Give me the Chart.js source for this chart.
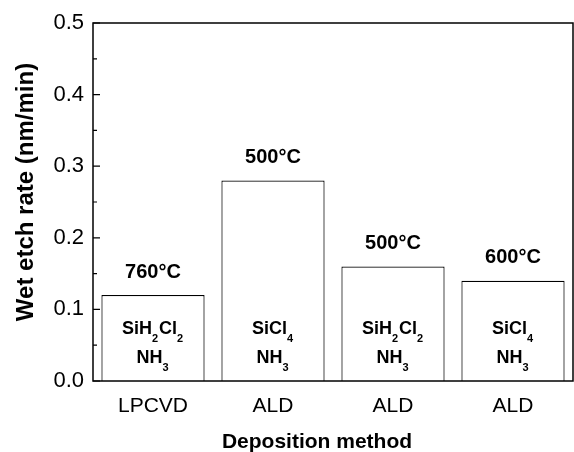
<!DOCTYPE html>
<html>
<head>
<meta charset="utf-8">
<script src="https://cdn.jsdelivr.net/npm/chart.js@4"></script>
<style>
  html, body { margin: 0; padding: 0; background: #fff; }
  #wrap { width: 574px; height: 452px; }
</style>
</head>
<body>
<div id="wrap"><canvas id="etchChart" width="574" height="452"></canvas></div>
<script>
// Chart data
const categories = ['LPCVD', 'ALD', 'ALD', 'ALD'];
const etchRates = [0.12, 0.28, 0.16, 0.14];
const temperatures = ['760°C', '500°C', '500°C', '600°C'];
// '_' marks the next digit as a subscript
const precursorA = ['SiH_2Cl_2', 'SiCl_4', 'SiH_2Cl_2', 'SiCl_4'];
const precursorB = ['NH_3', 'NH_3', 'NH_3', 'NH_3'];
const yTicks = [0, 0.1, 0.2, 0.3, 0.4, 0.5];
const yMinorTicks = [0.05, 0.15, 0.25, 0.35, 0.45];
const xTitle = 'Deposition method';
const yTitle = 'Wet etch rate (nm/min)';

const FONT = '"Liberation Sans", Arial, sans-serif';

// Split 'SiH_2Cl_2' into normal and subscript parts
function parseFormula(str) {
    const parts = [];
    let i = 0;
    while (i < str.length) {
        if (str[i] === '_') {
            parts.push({ text: str[i + 1], sub: true });
            i += 2;
        } else {
            let j = i;
            while (j < str.length && str[j] !== '_') j++;
            parts.push({ text: str.slice(i, j), sub: false });
            i = j;
        }
    }
    return parts;
}

function drawFormula(ctx, str, cx, cy) {
    const parts = parseFormula(str);
    const mainFont = 'bold 18px ' + FONT;
    const subFont = 'bold 11px ' + FONT;
    let total = 0;
    parts.forEach(p => {
        ctx.font = p.sub ? subFont : mainFont;
        p.w = ctx.measureText(p.text).width + (p.sub ? 1 : 0);
        total += p.w;
    });
    let x = cx - total / 2;
    ctx.textAlign = 'left';
    ctx.textBaseline = 'middle';
    parts.forEach(p => {
        ctx.font = p.sub ? subFont : mainFont;
        ctx.fillText(p.text, x, p.sub ? cy + 10 : cy);
        x += p.w;
    });
}

// Frame, inward ticks, axis titles and bar annotations
const decorations = {
    id: 'decorations',
    afterDatasetsDraw(chart) {
        const ctx = chart.ctx;
        const area = chart.chartArea;
        const yScale = chart.scales.y;
        ctx.save();
        ctx.strokeStyle = '#000';
        ctx.lineWidth = 1.5;
        ctx.strokeRect(area.left, area.top, area.right - area.left, area.bottom - area.top);

        ctx.lineWidth = 1.2;
        ctx.beginPath();
        yTicks.forEach(v => {
            const y = yScale.getPixelForValue(v);
            ctx.moveTo(area.left, y);
            ctx.lineTo(area.left + 7, y);
        });
        yMinorTicks.forEach(v => {
            const y = yScale.getPixelForValue(v);
            ctx.moveTo(area.left, y);
            ctx.lineTo(area.left + 4, y);
        });
        ctx.stroke();

        ctx.fillStyle = '#000';
        const meta = chart.getDatasetMeta(0);
        meta.data.forEach((bar, i) => {
            ctx.font = 'bold 20px ' + FONT;
            ctx.textAlign = 'center';
            ctx.textBaseline = 'middle';
            ctx.fillText(temperatures[i], bar.x, bar.y - 23);
            drawFormula(ctx, precursorA[i], bar.x, yScale.getPixelForValue(0.072));
            drawFormula(ctx, precursorB[i], bar.x, yScale.getPixelForValue(0.032));
        });

        // axis titles
        ctx.font = 'bold 21px ' + FONT;
        ctx.textAlign = 'center';
        ctx.textBaseline = 'alphabetic';
        ctx.fillText(xTitle, 317, 448);

        ctx.save();
        ctx.translate(33, 192);
        ctx.rotate(-Math.PI / 2);
        ctx.font = 'bold 24px ' + FONT;
        ctx.fillText(yTitle, 0, 0);
        ctx.restore();
        ctx.restore();
    }
};

const ctx = document.getElementById('etchChart').getContext('2d');
new Chart(ctx, {
    type: 'bar',
    data: {
        labels: categories,
        datasets: [{
            data: etchRates,
            backgroundColor: '#fff',
            borderColor: '#000',
            borderWidth: 1.2,
            categoryPercentage: 1.0,
            barPercentage: 0.86
        }]
    },
    options: {
        responsive: false,
        animation: false,
        layout: { padding: { top: 23, right: 1, left: 0, bottom: 0 } },
        plugins: {
            legend: { display: false },
            tooltip: { enabled: false }
        },
        scales: {
            x: {
                grid: { display: false, drawTicks: false },
                border: { display: false },
                ticks: {
                    color: '#000',
                    font: { family: FONT, size: 21 },
                    padding: 13,
                    maxRotation: 0
                },
                afterFit(scale) { scale.height = 71; }
            },
            y: {
                min: 0,
                max: 0.5,
                grid: { display: false, drawTicks: false },
                border: { display: false },
                ticks: {
                    stepSize: 0.1,
                    color: '#000',
                    font: { family: FONT, size: 22 },
                    padding: 9,
                    callback: v => v.toFixed(1)
                },
                afterFit(scale) { scale.width = 93; }
            }
        }
    },
    plugins: [decorations]
});
</script>
</body>
</html>
